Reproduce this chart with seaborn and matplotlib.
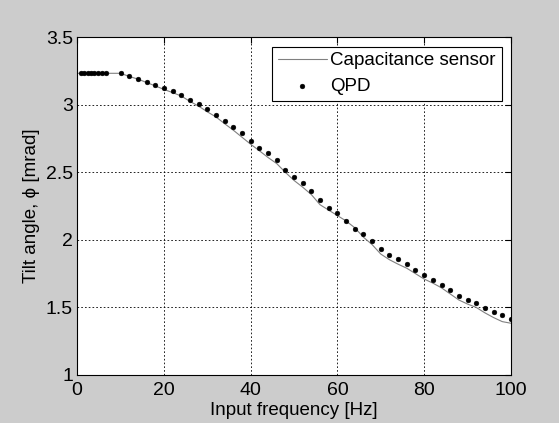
import numpy as np
import pandas as pd
import matplotlib
matplotlib.use('Agg')
import matplotlib.pyplot as plt
import seaborn as sns

# capacitance sensor trace
cap_freq = [0, 2, 4, 6, 8, 10, 12, 14, 16, 18, 20, 22, 24, 26, 28, 30, 32, 34, 36, 38,
            40, 42, 44, 46, 48, 50, 52, 54, 56, 58, 60, 62, 64, 66, 68, 70, 72, 74, 76, 78,
            80, 82, 84, 86, 88, 90, 92, 94, 96, 98, 100]
cap_tilt = [3.233, 3.233, 3.233, 3.233, 3.233, 3.233, 3.21, 3.19, 3.165, 3.14, 3.114, 3.09,
            3.065, 3.025, 2.99, 2.948, 2.91, 2.86, 2.812, 2.76, 2.708, 2.66, 2.61, 2.565,
            2.50, 2.44, 2.39, 2.335, 2.26, 2.22, 2.18, 2.14, 2.09, 2.02, 1.965, 1.895, 1.853,
            1.82, 1.79, 1.75, 1.71, 1.68, 1.645, 1.60, 1.555, 1.525, 1.50, 1.46, 1.425, 1.395,
            1.383]

# QPD measurement points
qpd_freq = [0.8, 1.6, 2.4, 3.2, 4.0, 4.9, 5.7, 6.6,
            10, 12, 14, 16, 18, 20, 22, 24, 26, 28, 30, 32, 34, 36, 38, 40, 42, 44, 46, 48,
            50, 52, 54, 56, 58, 60, 62, 64, 66, 68, 70, 72, 74, 76, 78, 80, 82, 84, 86, 88,
            90, 92, 94, 96, 98, 100]
qpd_tilt = [3.233, 3.233, 3.233, 3.233, 3.233, 3.233, 3.233, 3.233,
            3.233, 3.213, 3.191, 3.168, 3.146, 3.122, 3.104, 3.072, 3.035, 3.005, 2.966,
            2.928, 2.881, 2.835, 2.788, 2.733, 2.681, 2.644, 2.590, 2.516, 2.464, 2.419,
            2.365, 2.298, 2.239, 2.202, 2.142, 2.080, 2.046, 1.994, 1.935, 1.890, 1.861,
            1.823, 1.779, 1.742, 1.704, 1.665, 1.630, 1.583, 1.556, 1.534, 1.497, 1.464,
            1.442, 1.415]

cap = pd.DataFrame({'f': cap_freq, 'tilt': cap_tilt})
qpd = pd.DataFrame({'f': qpd_freq, 'tilt': qpd_tilt})

sns.set_style('white')
plt.rcParams['font.family'] = ['Liberation Sans', 'DejaVu Sans']
plt.rcParams['text.color'] = 'black'

fig = plt.figure(figsize=(5.59, 4.23), dpi=100, facecolor='#cccccc')
ax = fig.add_axes([0.138, 0.1135, 0.776, 0.7985])
ax.set_facecolor('white')

sns.lineplot(data=cap, x='f', y='tilt', ax=ax, color='#808080', linewidth=0.8,
             label='Capacitance sensor')
sns.scatterplot(data=qpd, x='f', y='tilt', ax=ax, color='black', s=12, marker='o',
                edgecolor='black', linewidth=0.3, label='QPD', zorder=3)

ax.set_xlim(0, 100)
ax.set_ylim(1, 3.5)
ax.set_xticks([0, 20, 40, 60, 80, 100])
ax.set_yticks([1, 1.5, 2, 2.5, 3, 3.5])
ax.set_yticklabels(['1', '1.5', '2', '2.5', '3', '3.5'])
ax.grid(True, color='black', linestyle=(0, (2, 2.5)), linewidth=0.6)
ax.tick_params(direction='in', length=4, top=True, right=True, labelsize=14, pad=3,
               colors='black')
ax.tick_params(axis='x', pad=5)
for s in ax.spines.values():
    s.set_color('black')
    s.set_linewidth(0.8)

ax.set_xlabel('Input frequency [Hz]', fontsize=13.5, labelpad=2, color='black')
ax.set_ylabel('Tilt angle, \u03d5 [mrad]', fontsize=13.5, labelpad=4, color='black')

leg = ax.legend(loc='upper right', fontsize=13.5, frameon=True, fancybox=False,
                edgecolor='black', framealpha=1, borderaxespad=0.5, handlelength=2.6,
                handletextpad=0.2, labelspacing=0.45, borderpad=0.3)
leg.get_frame().set_linewidth(0.8)

fig.savefig('out.png', dpi=100, facecolor=fig.get_facecolor())
